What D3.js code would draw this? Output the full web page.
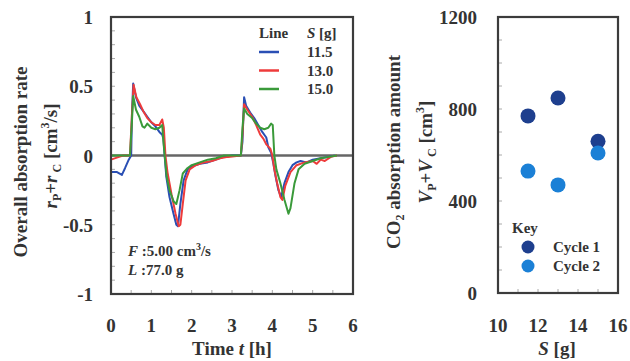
<!DOCTYPE html>
<html><head><meta charset="utf-8">
<script src="https://cdn.jsdelivr.net/npm/d3@7"></script>
<style>
body{margin:0;background:#fff;}
svg{display:block;}
</style></head><body>
<svg id="c" width="630" height="361" font-family="'Liberation Serif', 'Times New Roman', 'DejaVu Serif', serif" font-weight="bold"></svg>
<script>
// ---- data ----
const leftYTicks = [-1, -0.5, 0, 0.5, 1];
const leftXTicks = [0, 1, 2, 3, 4, 5, 6];
const rightYTicks = [0, 400, 800, 1200];
const rightXTicks = [10, 12, 14, 16];
const lineLabels = ["11.5", "13.0", "15.0"];
const lineColors = ["#2a4fb4", "#ee3b3b", "#3a9a3a"];
const serie115 = [[0,-0.12],[0.15,-0.12],[0.27,-0.14],[0.35,-0.09],[0.44,-0.03],[0.5,0],[0.52,0.3],[0.55,0.52],[0.62,0.42],[0.7,0.36],[0.8,0.32],[0.9,0.28],[1.0,0.24],[1.1,0.21],[1.2,0.17],[1.27,0.15],[1.3,0.12],[1.33,0.0],[1.37,-0.15],[1.45,-0.3],[1.55,-0.42],[1.62,-0.5],[1.66,-0.51],[1.72,-0.35],[1.8,-0.18],[1.9,-0.1],[2.0,-0.08],[2.2,-0.06],[2.4,-0.05],[2.6,-0.03],[2.8,-0.01],[3.0,0],[3.22,0],[3.26,0.1],[3.3,0.42],[3.35,0.36],[3.45,0.31],[3.55,0.27],[3.65,0.22],[3.75,0.17],[3.85,0.13],[3.9,0.06],[3.97,0.02],[4.02,-0.05],[4.08,-0.15],[4.15,-0.25],[4.22,-0.3],[4.3,-0.2],[4.4,-0.12],[4.5,-0.07],[4.6,-0.05],[4.7,-0.04],[4.85,-0.05],[5.0,-0.03],[5.2,-0.02],[5.4,-0.01],[5.55,0]];
const serie130 = [[0,-0.03],[0.2,-0.01],[0.3,0],[0.47,0],[0.52,0.3],[0.56,0.51],[0.63,0.42],[0.72,0.37],[0.8,0.32],[0.9,0.27],[1.0,0.24],[1.1,0.22],[1.2,0.22],[1.27,0.26],[1.31,0.2],[1.35,0],[1.4,-0.12],[1.5,-0.28],[1.6,-0.42],[1.68,-0.51],[1.72,-0.5],[1.78,-0.35],[1.85,-0.18],[1.95,-0.1],[2.1,-0.07],[2.3,-0.05],[2.5,-0.04],[2.7,-0.02],[2.9,-0.01],[3.22,0],[3.26,0.15],[3.3,0.37],[3.38,0.33],[3.5,0.28],[3.6,0.22],[3.7,0.15],[3.78,0.12],[3.85,0.08],[3.95,0.05],[4.0,0],[4.05,-0.1],[4.12,-0.2],[4.2,-0.3],[4.25,-0.32],[4.32,-0.22],[4.45,-0.12],[4.6,-0.07],[4.8,-0.05],[5.0,-0.04],[5.1,-0.06],[5.2,-0.03],[5.3,-0.04],[5.45,-0.01],[5.6,0]];
const serie150 = [[0,0],[0.47,0],[0.52,0.25],[0.55,0.43],[0.62,0.33],[0.7,0.28],[0.78,0.21],[0.83,0.2],[0.9,0.23],[1.0,0.2],[1.1,0.19],[1.2,0.2],[1.27,0.22],[1.3,0.1],[1.33,0],[1.38,-0.15],[1.45,-0.25],[1.55,-0.33],[1.62,-0.35],[1.7,-0.25],[1.78,-0.13],[1.9,-0.09],[2.0,-0.07],[2.2,-0.05],[2.4,-0.03],[2.6,-0.02],[2.8,0],[3.22,0],[3.26,0.2],[3.3,0.34],[3.38,0.3],[3.5,0.27],[3.6,0.23],[3.7,0.2],[3.8,0.19],[3.9,0.2],[3.97,0.23],[4.01,0.22],[4.05,0],[4.1,-0.1],[4.2,-0.2],[4.3,-0.32],[4.4,-0.42],[4.45,-0.38],[4.55,-0.2],[4.65,-0.1],[4.8,-0.06],[5.0,-0.04],[5.2,-0.02],[5.4,-0.01],[5.6,0]];
const seriesList = [serie115, serie130, serie150];
const sValues = [11.5, 13.0, 15.0];
const cycle1 = [770, 848, 660];
const cycle2 = [530, 470, 609];
const cycleLabels = ["Cycle 1", "Cycle 2"];
const cycleColors = ["#1e3f8e", "#1b80d6"];

// ---- layout ----
const svg = d3.select("#c");
const txt = "#333";
const frame = "#3c3c3c";
const L = {x0:111, x1:353, y0:17, y1:294};
const R = {x0:498, x1:618, y0:17, y1:293};

const xL = d3.scaleLinear().domain([0,6]).range([L.x0, L.x1]);
const yL = d3.scaleLinear().domain([-1,1]).range([L.y1, L.y0]);
const xR = d3.scaleLinear().domain([10,16]).range([R.x0, R.x1]);
const yR = d3.scaleLinear().domain([0,1200]).range([R.y1, R.y0]);

function T(sel){ return sel.attr("fill", txt).attr("font-family","'Liberation Serif', 'Times New Roman', 'DejaVu Serif', serif").attr("font-weight","bold"); }

// minor inward ticks
function minorTicks(g, xs, ys, xTicks, yTicks, box){
  g.selectAll(null).data(yTicks).join("line")
    .attr("x1", box.x0).attr("x2", box.x0+4)
    .attr("y1", d=>ys(d)).attr("y2", d=>ys(d))
    .attr("stroke", "#aaa").attr("stroke-width", 1);
  g.selectAll(null).data(xTicks).join("line")
    .attr("x1", d=>xs(d)).attr("x2", d=>xs(d))
    .attr("y1", box.y1).attr("y2", box.y1-4)
    .attr("stroke", "#aaa").attr("stroke-width", 1);
}
minorTicks(svg.append("g"), xL, yL, d3.range(0.5,6,0.5), d3.range(-0.9,1,0.1), L);
minorTicks(svg.append("g"), xR, yR, d3.range(11,16,1), d3.range(100,1200,100), R);

// zero line
svg.append("line").attr("x1", L.x0).attr("x2", L.x1)
  .attr("y1", yL(0)).attr("y2", yL(0)).attr("stroke", "#666").attr("stroke-width", 2.5);

// lines
const line = d3.line().x(d=>xL(d[0])).y(d=>yL(d[1]));
seriesList.forEach((s,i)=>{
  svg.append("path").attr("d", line(s)).attr("fill","none")
    .attr("stroke", lineColors[i]).attr("stroke-width", 2).attr("stroke-linejoin","round");
});

// frames
svg.append("rect").attr("x", L.x0).attr("y", L.y0).attr("width", L.x1-L.x0).attr("height", L.y1-L.y0)
  .attr("fill","none").attr("stroke", frame).attr("stroke-width", 2.2);
svg.append("rect").attr("x", R.x0).attr("y", R.y0).attr("width", R.x1-R.x0).attr("height", R.y1-R.y0)
  .attr("fill","none").attr("stroke", frame).attr("stroke-width", 2.2);

// tick labels
const fs = 19;
T(svg.append("g").selectAll("text").data(leftYTicks).join("text"))
  .attr("x", 93).attr("y", d=>yL(d)+7).attr("text-anchor","end").attr("font-size", fs)
  .text(d=>String(d));
T(svg.append("g").selectAll("text").data(leftXTicks).join("text"))
  .attr("x", d=>xL(d)).attr("y", 332).attr("text-anchor","middle").attr("font-size", fs)
  .text(d=>d);
T(svg.append("g").selectAll("text").data(rightYTicks).join("text"))
  .attr("x", 477).attr("y", d=>yR(d)+7).attr("text-anchor","end").attr("font-size", fs)
  .text(d=>d);
T(svg.append("g").selectAll("text").data(rightXTicks).join("text"))
  .attr("x", d=>xR(d)).attr("y", 332).attr("text-anchor","middle").attr("font-size", fs)
  .text(d=>d);

// x titles
const tx = T(svg.append("text")).attr("x", 232).attr("y", 355).attr("text-anchor","middle").attr("font-size", fs);
tx.append("tspan").text("Time ");
tx.append("tspan").attr("font-style","italic").text("t");
tx.append("tspan").text("  [h]");
const sx = T(svg.append("text")).attr("x", 557).attr("y", 355).attr("text-anchor","middle").attr("font-size", fs);
sx.append("tspan").attr("font-style","italic").text("S");
sx.append("tspan").text("  [g]");

// y titles
T(svg.append("text")).attr("transform","translate(27,162) rotate(-90)").attr("text-anchor","middle")
  .attr("font-size", fs).text("Overall absorption rate");
const y2 = T(svg.append("text")).attr("transform","translate(57,156) rotate(-90)").attr("text-anchor","middle").attr("font-size", fs);
y2.append("tspan").attr("font-style","italic").text("r");
y2.append("tspan").attr("font-size",12).attr("dy",4).text("P");
y2.append("tspan").attr("dy",-4).text("+");
y2.append("tspan").attr("font-style","italic").text("r");
y2.append("tspan").attr("font-size",12).attr("dy",4).text(" C");
y2.append("tspan").attr("dy",-4).text(" [cm");
y2.append("tspan").attr("font-size",12).attr("dy",-8).text("3");
y2.append("tspan").attr("dy",8).text("/s]");

const r1 = T(svg.append("text")).attr("transform","translate(400,152) rotate(-90)").attr("text-anchor","middle").attr("font-size", fs);
r1.append("tspan").text("CO");
r1.append("tspan").attr("font-size",12).attr("dy",4).text("2");
r1.append("tspan").attr("dy",-4).text(" absorption amount");
const r2 = T(svg.append("text")).attr("transform","translate(432,152) rotate(-90)").attr("text-anchor","middle").attr("font-size", fs);
r2.append("tspan").attr("font-style","italic").text("V");
r2.append("tspan").attr("font-size",12).attr("dy",4).text("P");
r2.append("tspan").attr("dy",-4).text("+");
r2.append("tspan").attr("font-style","italic").text("V");
r2.append("tspan").attr("font-size",12).attr("dy",4).text(" C");
r2.append("tspan").attr("dy",-4).text(" [cm");
r2.append("tspan").attr("font-size",12).attr("dy",-8).text("3");
r2.append("tspan").attr("dy",8).text("]");

// legend (left)
const lfs = 15;
T(svg.append("text")).attr("x", 259).attr("y", 38).attr("font-size", lfs).text("Line");
const sl = T(svg.append("text")).attr("x", 307).attr("y", 38).attr("font-size", lfs);
sl.append("tspan").attr("font-style","italic").text("S");
sl.append("tspan").text("  [g]");
lineLabels.forEach((lab,i)=>{
  const yy = 52 + i*18.5;
  svg.append("line").attr("x1",259).attr("x2",279).attr("y1",yy).attr("y2",yy)
    .attr("stroke", lineColors[i]).attr("stroke-width", 2.5);
  T(svg.append("text")).attr("x", 307).attr("y", yy+5).attr("font-size", lfs).text(lab);
});

// annotation
const a1 = T(svg.append("text")).attr("x", 128).attr("y", 256).attr("font-size", lfs);
a1.append("tspan").attr("font-style","italic").text("F");
a1.append("tspan").text(" :5.00 cm");
a1.append("tspan").attr("font-size",10).attr("dy",-6).text("3");
a1.append("tspan").attr("dy",6).text("/s");
const a2 = T(svg.append("text")).attr("x", 128).attr("y", 275).attr("font-size", lfs);
a2.append("tspan").attr("font-style","italic").text("L");
a2.append("tspan").text(" :77.0 g");

// scatter
svg.append("g").selectAll("circle").data(sValues).join("circle")
  .attr("cx", d=>xR(d)).attr("cy", (d,i)=>yR(cycle1[i])).attr("r", 7.5).attr("fill", cycleColors[0]);
svg.append("g").selectAll("circle").data(sValues).join("circle")
  .attr("cx", d=>xR(d)).attr("cy", (d,i)=>yR(cycle2[i])).attr("r", 7.5).attr("fill", cycleColors[1]);

// key
T(svg.append("text")).attr("x", 512).attr("y", 233).attr("font-size", lfs).text("Key");
cycleLabels.forEach((lab,i)=>{
  const yy = 247 + i*19;
  svg.append("circle").attr("cx", 528).attr("cy", yy).attr("r", 6.5).attr("fill", cycleColors[i]);
  T(svg.append("text")).attr("x", 553).attr("y", yy+5).attr("font-size", lfs).text(lab);
});
</script>
</body></html>
